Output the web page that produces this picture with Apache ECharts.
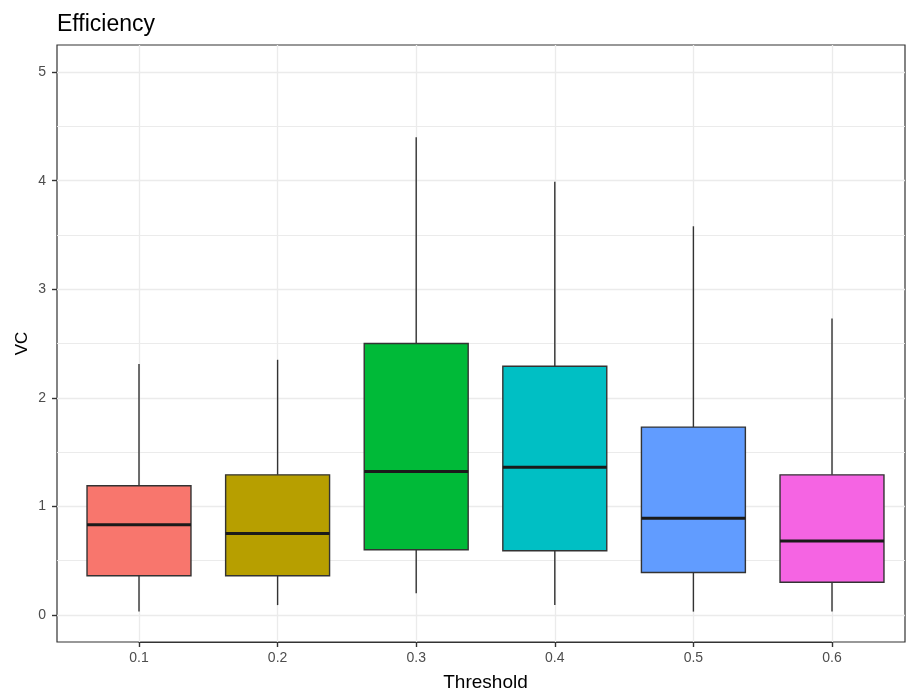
<!DOCTYPE html>
<html>
<head>
<meta charset="utf-8">
<script src="https://cdn.jsdelivr.net/npm/echarts@6/dist/echarts.min.js"></script>
<style>
html, body { margin: 0; padding: 0; background: #fff; }
#chart { width: 917px; height: 690px; }
</style>
</head>
<body>
<div id="chart"></div>
<script>
// data
var categories = ['0.1', '0.2', '0.3', '0.4', '0.5', '0.6']
var whiskerLow = [0.03, 0.09, 0.20, 0.09, 0.03, 0.03]
var q1 = [0.36, 0.36, 0.60, 0.59, 0.39, 0.30]
var median = [0.83, 0.75, 1.32, 1.36, 0.89, 0.68]
var q3 = [1.19, 1.29, 2.50, 2.29, 1.73, 1.29]
var whiskerHigh = [2.31, 2.35, 4.40, 3.99, 3.58, 2.73]
var yTicks = [0, 1, 2, 3, 4, 5]
var yMinorGrid = [0.5, 1.5, 2.5, 3.5, 4.5]

var colors = ['#F8766D', '#B79F00', '#00BA38', '#00BFC4', '#619CFF', '#F564E3']
var font = 'Liberation Sans, Arial, sans-serif'

var boxData = categories.map(function (c, i) {
    return [i, whiskerLow[i], q1[i], median[i], q3[i], whiskerHigh[i]]
})

function renderItem(params, api) {
    var x = api.value(0)
    var lo = api.coord([x, api.value(1)])
    var b1 = api.coord([x, api.value(2)])
    var md = api.coord([x, api.value(3)])
    var b3 = api.coord([x, api.value(4)])
    var hi = api.coord([x, api.value(5)])
    var w = api.size([1, 0])[0] * 0.75
    var cx = md[0]
    var ink = '#333333'
    return {
        type: 'group',
        children: [
            { type: 'line', shape: { x1: cx, y1: b3[1], x2: cx, y2: hi[1] }, style: { stroke: ink, lineWidth: 1.4 } },
            { type: 'line', shape: { x1: cx, y1: b1[1], x2: cx, y2: lo[1] }, style: { stroke: ink, lineWidth: 1.4 } },
            { type: 'rect', shape: { x: cx - w / 2, y: b3[1], width: w, height: b1[1] - b3[1] },
              style: { fill: colors[params.dataIndex], stroke: ink, lineWidth: 1.4 } },
            { type: 'line', shape: { x1: cx - w / 2, y1: md[1], x2: cx + w / 2, y2: md[1] }, style: { stroke: '#1a1a1a', lineWidth: 3 } }
        ]
    }
}

var myChart = echarts.init(document.getElementById('chart'))
var option = {
    animation: false,
    backgroundColor: '#ffffff',
    title: {
        text: 'Efficiency',
        left: 52,
        top: 8,
        textStyle: { fontFamily: font, fontSize: 23, fontWeight: 'normal', color: '#000' }
    },
    grid: [
        { left: 57, right: 12, top: 45, bottom: 48, show: true, borderColor: '#333333', borderWidth: 1.2, outerBoundsMode: 'none', containLabel: false },
        { left: 139, right: 85, top: 45, bottom: 48, outerBoundsMode: 'none', containLabel: false }
    ],
    xAxis: [
        {
            type: 'category', gridIndex: 0, data: categories,
            axisLine: { show: false, onZero: false }, axisTick: { show: false }, axisLabel: { show: false }, splitLine: { show: false }
        },
        {
            type: 'category', gridIndex: 1, data: categories, boundaryGap: false, position: 'bottom',
            name: 'Threshold', nameLocation: 'middle', nameGap: 31, nameMoveOverlap: false,
            nameTextStyle: { fontFamily: font, fontSize: 19, color: '#000' },
            axisLine: { show: true, onZero: false, lineStyle: { color: '#333333', width: 1.2 } },
            axisTick: { show: true, inside: false, length: 5, lineStyle: { color: '#333333', width: 1.4 } },
            axisLabel: { fontFamily: font, fontSize: 14, color: '#4d4d4d', margin: 9 },
            splitLine: { show: true, lineStyle: { color: '#ebebeb', width: 1.3 } }
        }
    ],
    yAxis: [
        {
            type: 'value', gridIndex: 0, min: -0.25, max: 5.25,
            name: 'VC', nameLocation: 'middle', nameGap: 26, nameMoveOverlap: false,
            nameTextStyle: { fontFamily: font, fontSize: 17, color: '#000' },
            axisLine: { show: false },
            axisTick: { show: true, length: 5, customValues: yTicks, lineStyle: { color: '#333333', width: 1.4 } },
            axisLabel: { fontFamily: font, fontSize: 14, color: '#4d4d4d', margin: 11, customValues: yTicks },
            splitLine: { show: true, lineStyle: { color: '#ebebeb', width: 1.3 } }
        },
        { type: 'value', gridIndex: 1, min: -0.25, max: 5.25, show: false, splitLine: { show: false } }
    ],
    series: [
        {
            type: 'line', xAxisIndex: 0, yAxisIndex: 0, data: [], silent: true,
            markLine: {
                silent: true, symbol: 'none', label: { show: false },
                lineStyle: { color: '#ebebeb', width: 1, type: 'solid' },
                data: yMinorGrid.map(function (v) { return { yAxis: v } })
            }
        },
        {
            type: 'custom', xAxisIndex: 1, yAxisIndex: 1,
            renderItem: renderItem,
            encode: { x: 0, y: [1, 2, 3, 4, 5] },
            data: boxData,
            z: 5
        }
    ]
}
myChart.setOption(option)
window.addEventListener('resize', function () {
    myChart.resize()
})
</script>
</body>
</html>
